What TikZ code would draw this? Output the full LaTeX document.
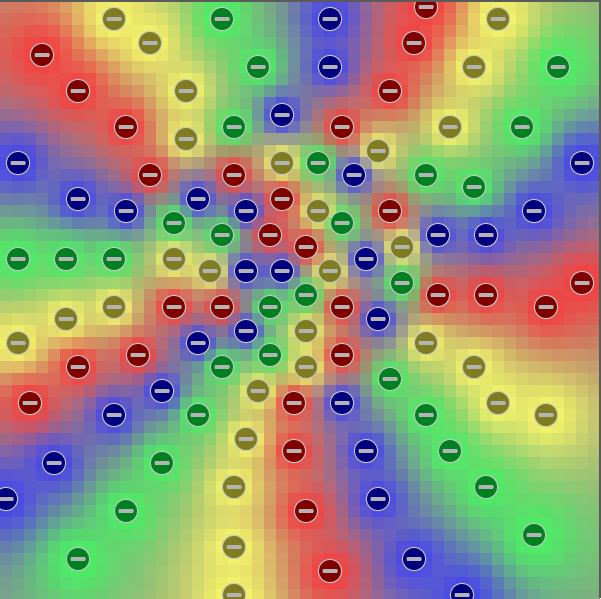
\documentclass[tikz,border=0pt]{standalone}
\usepackage{tikz}
\definecolor{colTokR}{RGB}{128,0,0}
\definecolor{colTokY}{RGB}{128,124,32}
\definecolor{colTokG}{RGB}{0,128,32}
\definecolor{colTokB}{RGB}{0,0,128}
\definecolor{colRing}{RGB}{200,200,200}
\definecolor{colBar}{RGB}{180,180,180}
\definecolor{colEdge}{RGB}{90,90,90}
\def\cRr{245}\def\cRg{65}\def\cRb{65}
\def\cYr{245}\def\cYg{245}\def\cYb{105}
\def\cGr{75}\def\cGg{238}\def\cGb{100}
\def\cBr{72}\def\cBg{72}\def\cBb{232}
\newcount\gx \newcount\gy \newcount\gd \newcount\gw
\newcount\accR \newcount\accY \newcount\accG \newcount\accB \newcount\accT
\expandafter\def\csname gw@0\endcsname{400000000}
\def\getweight{\ifcsname gw@\the\gd\endcsname\else
  \expandafter\xdef\csname gw@\the\gd\endcsname{\fpeval{round(10000000/((\the\gd)^1.3))}}\fi
  \gw=\csname gw@\the\gd\endcsname\relax}
\def\tkacc#1#2#3{\gd=\numexpr(\gx-#1)*(\gx-#1)+(\gy-#2)*(\gy-#2)\relax
  \getweight\advance\csname acc#3\endcsname\gw}
\def\tkdraw#1#2#3{\node[tok#3] (t-#1-#2) at ({#1*12+6},{#2*12+7}) {};
  \fill[colBar,rounded corners=0.6pt] (t-#1-#2.center) ++(-7.5pt,-1.8pt) rectangle ++(15pt,3.6pt);}
\def\tokenlist{%
\tk{35}{0}R\tk{9}{1}Y\tk{18}{1}G\tk{27}{1}B\tk{41}{1}Y%
\tk{12}{3}Y\tk{34}{3}R\tk{3}{4}R%
\tk{21}{5}G\tk{27}{5}B\tk{39}{5}Y\tk{46}{5}G%
\tk{6}{7}R\tk{15}{7}Y\tk{32}{7}R%
\tk{23}{9}B%
\tk{10}{10}R\tk{19}{10}G\tk{28}{10}R\tk{37}{10}Y\tk{43}{10}G%
\tk{15}{11}Y\tk{31}{12}Y%
\tk{1}{13}B\tk{23}{13}Y\tk{26}{13}G\tk{48}{13}B%
\tk{12}{14}R\tk{19}{14}R\tk{29}{14}B\tk{35}{14}G%
\tk{39}{15}G%
\tk{6}{16}B\tk{16}{16}B\tk{23}{16}R%
\tk{10}{17}B\tk{20}{17}B\tk{26}{17}Y\tk{32}{17}R\tk{44}{17}B%
\tk{14}{18}G\tk{28}{18}G%
\tk{18}{19}G\tk{22}{19}R\tk{36}{19}B\tk{40}{19}B%
\tk{25}{20}R\tk{33}{20}Y%
\tk{1}{21}G\tk{5}{21}G\tk{9}{21}G\tk{14}{21}Y\tk{30}{21}B%
\tk{17}{22}Y\tk{20}{22}B\tk{23}{22}B\tk{27}{22}Y%
\tk{33}{23}G\tk{48}{23}R%
\tk{25}{24}G\tk{36}{24}R\tk{40}{24}R%
\tk{9}{25}Y\tk{14}{25}R\tk{18}{25}R\tk{22}{25}G\tk{28}{25}R\tk{45}{25}R%
\tk{5}{26}Y\tk{31}{26}B%
\tk{20}{27}B\tk{25}{27}Y%
\tk{1}{28}Y\tk{16}{28}B\tk{35}{28}Y%
\tk{11}{29}R\tk{22}{29}G\tk{28}{29}R%
\tk{6}{30}R\tk{18}{30}G\tk{25}{30}Y\tk{39}{30}Y%
\tk{32}{31}G%
\tk{13}{32}B\tk{21}{32}Y%
\tk{2}{33}R\tk{24}{33}R\tk{28}{33}B\tk{41}{33}Y%
\tk{9}{34}B\tk{16}{34}G\tk{35}{34}G\tk{45}{34}Y%
\tk{20}{36}Y%
\tk{24}{37}R\tk{30}{37}B\tk{37}{37}G%
\tk{4}{38}B\tk{13}{38}G%
\tk{19}{40}Y\tk{40}{40}G%
\tk{0}{41}B\tk{31}{41}B%
\tk{10}{42}G\tk{25}{42}R%
\tk{44}{44}G%
\tk{19}{45}Y%
\tk{6}{46}G\tk{34}{46}B%
\tk{27}{47}R%
\tk{19}{49}Y\tk{38}{49}B%
}
\def\docell{%
  \accR=0 \accY=0 \accG=0 \accB=0
  \let\tk\tkacc \tokenlist
  \accT=\numexpr\accR+\accY+\accG+\accB\relax
  \edef\tmpcell{\noexpand\definecolor{cellc}{RGB}{%
    \the\numexpr\accR*\cRr/\accT+\accY*\cYr/\accT+\accG*\cGr/\accT+\accB*\cBr/\accT\relax,%
    \the\numexpr\accR*\cRg/\accT+\accY*\cYg/\accT+\accG*\cGg/\accT+\accB*\cBg/\accT\relax,%
    \the\numexpr\accR*\cRb/\accT+\accY*\cYb/\accT+\accG*\cGb/\accT+\accB*\cBb/\accT\relax}}%
  \tmpcell
  \fill[cellc] (\the\numexpr\gx*12\relax-0.2, \the\numexpr\gy*12+1\relax-0.2) rectangle ++(12.4,12.4);
}
\tikzset{
  tokbase/.style={circle, minimum size=23.4pt, inner sep=0pt, draw=colRing, line width=1pt},
  tokR/.style={tokbase, fill=colTokR},
  tokY/.style={tokbase, fill=colTokY},
  tokG/.style={tokbase, fill=colTokG},
  tokB/.style={tokbase, fill=colTokB}
}
\begin{document}
\begin{tikzpicture}[x=1pt,y=-1pt]
\useasboundingbox (0,0) rectangle (601,598);
\foreach \j in {0,...,49}{\foreach \i in {0,...,49}{\gx=\i\relax\gy=\j\relax\docell}}
\let\tk\tkdraw
\tokenlist
\fill[colEdge] (0,0) rectangle (601,2);
\fill[colEdge] (599,0) rectangle (601,598);
\end{tikzpicture}
\end{document}
